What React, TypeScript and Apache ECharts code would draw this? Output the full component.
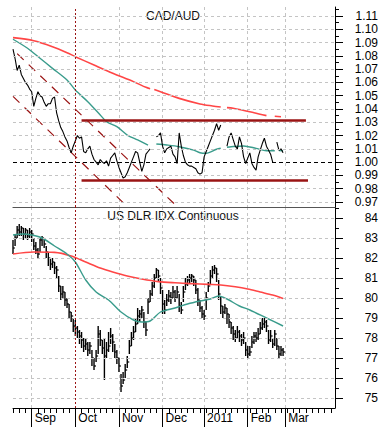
import React, { useEffect, useRef } from "react";
import * as echarts from "echarts";

// ---------- data ----------
const N = 156;
const categories = Array.from({ length: N }, (_, i) => String(i));
const monthIdx = [9, 30, 51, 72, 92, 113, 131];
const monthLabels = ["Sep", "Oct", "Nov", "Dec", "2011", "Feb", "Mar"];
const gridMonthIdx = [9, 51, 72, 92, 113, 131];
const octIdx = 30;

const topTicks = [0.97, 0.98, 0.99, 1.0, 1.01, 1.02, 1.03, 1.04, 1.05, 1.06, 1.07, 1.08, 1.09, 1.1, 1.11];
const topMinor = [0.975, 0.985, 0.995, 1.005, 1.015, 1.025, 1.035, 1.045, 1.055, 1.065, 1.075, 1.085, 1.095, 1.105, 1.115];
const botTicks = [75, 76, 77, 78, 79, 80, 81, 82, 83, 84];
const botMinor = [75.5, 76.5, 77.5, 78.5, 79.5, 80.5, 81.5, 82.5, 83.5, 84.5];

const cadAud = [
  1.085, 1.078, 1.069, 1.073, 1.066, 1.063, 1.06, 1.058, 1.055, 1.053,
  1.042, 1.048, 1.053, 1.05, 1.049, 1.045, 1.042, 1.044, 1.044, 1.048,
  1.049, 1.037, 1.031, 1.026, 1.023, 1.019, 1.016, 1.011, 1.007, 1.012,
  1.016, 1.02, 1.018, 1.019, 1.008, 1.007, 1.01, 1.012, 1.006, 1.002,
  1.0, 0.998, 1.002, 1.0, 0.999, 1.001, 0.997, 1.003, 1.005, 1.007,
  1.001, 0.996, 0.992, 0.988, 0.989, 0.992, 0.996, 1.0, 1.004, 1.008,
  1.007, 1.0, 0.993, 0.998, 1.006, 1.008, 1.01, null, null, 1.019,
  1.02, 1.022, 1.012, 1.007, 1.01, 1.011, 1.012, 1.006, 1.004, 0.999,
  1.022, 1.012, 1.005, 1.0, 0.998, 0.997, 0.997, 0.996, 0.995, 0.992,
  0.991, 0.992, 1.004, 1.008, 1.012, 1.016, 1.02, 1.024, 1.029, 1.024,
  1.028, null, null, 1.012, 1.019, 1.022, 1.017, 1.012, 1.01, 1.019,
  1.014, 1.004, 0.999, 1.003, 1.007, 0.999, 0.996, 0.994, 1.004, 1.009,
  1.014, 1.018, 1.012, 1.009, 1.006, 1.0, null, 1.015, 1.009, 1.01,
  1.007,
];

const cadAudMaShort = [
  [0, 1.0925], [7, 1.0857], [13, 1.0782], [19, 1.0706], [26, 1.0618], [30, 1.0543],
  [36, 1.0455], [42, 1.0355], [45, 1.0305], [50, 1.0267], [55, 1.0204], [60, 1.0167],
  [65, 1.0129], [67, null], [69, 1.0137], [74, 1.0129], [80, 1.0116], [87, 1.0091],
  [90, 1.0071], [93, 1.0067], [98, 1.0097], [100, 1.0105], [101, null], [103, 1.0112],
  [105, 1.0116], [111, 1.0122], [117, 1.0104], [122, 1.0086], [126, 1.0086], [127, null],
  [128, 1.0088], [130, 1.0086],
];

const cadAudMaLong = [
  [0, 1.0937], [10, 1.0914], [19, 1.0869], [26, 1.0824], [30, 1.0794], [39, 1.0731],
  [48, 1.0669], [58, 1.0606], [64, 1.0563], [66, 1.0552], [67, null], [68, 1.0546],
  [71, 1.053], [80, 1.048], [90, 1.0438], [96, 1.0423], [100, 1.0415], [101, null],
  [103, 1.041], [106, 1.0405], [116, 1.0372], [122, 1.035], [123, null], [126, 1.0346],
  [129, 1.0342],
];

const resistance = [[33, 1.0313], [141, 1.0313]];
const support = [[33, 0.9862], [142, 0.9862]];
const channelA = [[0, 1.0495], [55, 0.9666]];
const channelB = [[2, 1.0817], [79, 0.9666]];

const dxyClose = [
  82.5, 83.0, 83.4, 83.3, 83.5, 83.2, 83.4, 83.1, 83.3, 83.2,
  82.6, 82.4, 82.2, 82.9, 83.0, 82.7, 82.3, 82.0, 81.7, 81.8,
  81.5, 81.4, 80.6, 80.2, 80.3, 79.9, 79.7, 79.3, 79.1, 78.6,
  78.5, 78.3, 78.1, 77.9, 77.6, 77.7, 77.4, 77.6, 77.0, 76.6,
  77.1, 78.2, 77.9, 77.5, 77.1, 77.4, 77.6, 78.1, 77.8, 77.3,
  77.0, 76.6, 75.6, 75.9, 76.4, 76.8, 77.6, 78.0, 78.3, 78.7,
  79.1, 79.2, 79.4, 78.8, 78.4, 79.8, 80.2, 80.6, 81.0, 81.4,
  81.1, 80.5, 79.7, 79.4, 79.9, 80.1, 80.0, 80.3, 80.0, 80.3,
  79.6, 79.4, 80.3, 80.7, 80.9, 81.0, 81.1, 80.9, 80.4, 79.9,
  79.5, 79.2, 79.1, 80.0, 80.6, 81.1, 81.4, 81.5, 81.2, 80.2,
  79.6, 79.3, 79.5, 79.2, 78.8, 78.5, 78.2, 78.0, 78.3, 78.1,
  77.9, 78.0, 77.4, 77.2, 77.3, 77.8, 78.1, 78.0, 78.2, 78.5,
  78.7, 78.8, 78.6, 77.9, 78.1, 77.7, 78.2, 77.6, 77.2, 77.4,
  77.3,
];
const dxyHigh = [
  82.9, 83.2, 83.6, 83.7, 83.6, 83.5, 83.5, 83.4, 83.5, 83.4,
  83.0, 82.8, 82.5, 83.0, 83.1, 83.0, 82.6, 82.3, 82.0, 82.0,
  81.8, 81.6, 81.1, 80.6, 80.6, 80.3, 80.0, 79.7, 79.3, 79.0,
  78.9, 78.6, 78.4, 78.3, 78.0, 78.0, 77.8, 77.8, 77.4, 77.0,
  77.4, 78.6, 78.4, 77.9, 78.0, 77.8, 78.3, 78.5, 78.2, 77.7,
  77.4, 77.0, 76.2, 76.3, 76.7, 77.1, 77.9, 78.3, 78.6, 79.0,
  79.5, 79.4, 79.6, 79.3, 78.8, 80.0, 80.4, 80.8, 81.2, 81.5,
  81.4, 81.0, 80.4, 79.9, 80.2, 80.4, 80.3, 80.6, 80.4, 80.6,
  80.2, 79.8, 80.6, 81.0, 81.1, 81.2, 81.2, 81.1, 80.9, 80.5,
  79.9, 79.6, 79.4, 80.3, 80.8, 81.4, 81.6, 81.65, 81.5, 80.9,
  80.1, 79.6, 79.7, 79.5, 79.2, 78.8, 78.6, 78.4, 78.6, 78.4,
  78.2, 78.3, 77.8, 77.6, 77.6, 78.1, 78.3, 78.3, 78.5, 78.8,
  79.0, 79.0, 78.9, 78.4, 78.4, 78.0, 78.4, 78.0, 77.6, 77.6,
  77.5,
];
const dxyLow = [
  82.2, 82.6, 83.0, 83.1, 83.1, 82.9, 83.0, 82.9, 83.0, 82.8,
  82.4, 82.2, 82.0, 82.3, 82.6, 82.5, 82.0, 81.6, 81.4, 81.5,
  81.2, 81.0, 80.3, 79.9, 80.0, 79.6, 79.5, 79.0, 78.8, 78.3,
  78.1, 78.0, 77.7, 77.5, 77.3, 77.4, 77.1, 77.2, 76.6, 76.4,
  76.8, 77.2, 77.6, 77.2, 75.9, 77.0, 77.3, 77.7, 77.3, 77.0,
  76.7, 76.3, 75.3, 75.7, 76.0, 76.5, 77.2, 77.6, 77.9, 78.3,
  78.7, 78.8, 79.0, 78.5, 78.1, 79.2, 79.8, 80.1, 80.5, 81.0,
  80.8, 80.2, 79.2, 79.2, 79.6, 79.8, 79.7, 80.0, 79.8, 80.0,
  79.3, 79.2, 79.8, 80.4, 80.6, 80.7, 80.8, 80.6, 80.2, 79.6,
  79.3, 79.0, 78.9, 79.4, 80.3, 80.7, 81.0, 81.2, 80.8, 79.9,
  79.2, 79.0, 79.2, 78.7, 78.5, 78.2, 77.9, 77.8, 78.0, 77.8,
  77.6, 77.7, 77.1, 77.0, 77.1, 77.5, 77.7, 77.8, 77.9, 78.2,
  78.4, 78.5, 78.3, 77.7, 77.8, 77.5, 77.6, 77.4, 77.0, 77.1,
  77.1,
];

const dxyMaShort = [
  [0, 83.15], [5, 83.2], [9, 83.15], [14, 83.0], [20, 82.6], [26, 82.2], [30, 81.8],
  [35, 80.9], [40, 80.3], [46, 79.9], [52, 79.3], [58, 78.9], [62, 78.8], [66, 78.85],
  [71, 79.3], [78, 79.5], [84, 79.7], [90, 79.85], [95, 79.95], [99, 80.1], [103, 79.95],
  [109, 79.6], [114, 79.4], [122, 79.0], [130, 78.6],
];
const dxyMaLong = [
  [0, 82.2], [10, 82.3], [20, 82.28], [28, 82.1], [35, 81.8], [42, 81.5], [48, 81.3],
  [55, 81.1], [62, 80.95], [70, 80.82], [78, 80.76], [86, 80.72], [94, 80.68],
  [100, 80.65], [107, 80.56], [113, 80.45], [119, 80.3], [125, 80.15], [130, 79.98],
];

// ---------- styles ----------
const FONT = "'Liberation Sans', Arial, sans-serif";
const GRID_COLOR = "#c4c4c4";
const DARK_RED = "#9a1414";
const TEAL = "#3a9c8c";
const RED = "#ff4646";

export default function App() {
  const ref = useRef<HTMLDivElement>(null);

  useEffect(() => {
    if (!ref.current) return;
    const chart = echarts.init(ref.current, null, { renderer: "svg" });

    const monthSet = new Set(monthIdx);
    const gridSet = new Set(gridMonthIdx);
    const labelOf = (i: number) => {
      const k = monthIdx.indexOf(i);
      return k >= 0 ? monthLabels[k] : "";
    };

    const hGrid = (ticks: number[], skip: number[] = []) =>
      ticks
        .filter((t) => !skip.includes(t))
        .map((t) => ({ yAxis: t }));

    const baseX = (gridIndex: number) => ({
      type: "category",
      gridIndex,
      position: "bottom",
      data: categories,
      boundaryGap: false,
      axisLine: { show: false },
      axisTick: { show: false },
      axisLabel: { show: false },
      splitLine: {
        show: true,
        interval: (i: number) => gridSet.has(i),
        lineStyle: { color: GRID_COLOR, type: [3, 3], width: 1 },
      },
    });

    const option: any = {
      animation: false,
      backgroundColor: "#ffffff",
      textStyle: { fontFamily: FONT },
      grid: [
        { left: 13, top: 7, width: 322, height: 200 },
        { left: 13, top: 207, width: 322, height: 201 },
      ],
      xAxis: [
        {
          ...baseX(0),
          axisLine: { show: true, onZero: false, lineStyle: { color: "#555", width: 1.2 } },
        },
        {
          ...baseX(1),
          axisLine: { show: true, onZero: false, lineStyle: { color: "#000", width: 1 } },
          axisTick: {
            show: true,
            length: 19,
            interval: (i: number) => monthSet.has(i),
            lineStyle: { color: "#000", width: 1 },
          },
          axisLabel: {
            show: true,
            interval: (i: number) => monthSet.has(i),
            formatter: (_v: string, i: number) => labelOf(i),
            align: "left",
            padding: [0, 0, 0, 3],
            margin: 4,
            fontSize: 12,
            color: "#000",
            fontFamily: FONT,
          },
        },
        {
          type: "category",
          gridIndex: 1,
          position: "bottom",
          data: categories,
          boundaryGap: false,
          axisLine: { show: false, onZero: false },
          axisTick: {
            show: true,
            length: 5,
            interval: (i: number) => i % 3 === 0 && !monthSet.has(i),
            lineStyle: { color: "#000" },
          },
          axisLabel: { show: false },
          splitLine: { show: false },
        },
      ],
      yAxis: [
        {
          type: "value",
          gridIndex: 0,
          position: "right",
          min: 0.96624,
          max: 1.11677,
          axisLine: { show: true, lineStyle: { color: "#000" } },
          axisTick: { show: true, length: 8, customValues: topTicks, lineStyle: { color: "#000" } },
          axisLabel: {
            show: true,
            customValues: topTicks,
            formatter: (v: number) => v.toFixed(2),
            align: "right",
            margin: 43,
            fontSize: 12,
            color: "#000",
            fontFamily: FONT,
          },
          splitLine: { show: false },
        },
        {
          type: "value",
          gridIndex: 0,
          position: "right",
          min: 0.96624,
          max: 1.11677,
          axisLine: { show: false },
          axisTick: { show: true, length: 4, customValues: topMinor, lineStyle: { color: "#000" } },
          axisLabel: { show: false },
          splitLine: { show: false },
        },
        {
          type: "value",
          gridIndex: 1,
          position: "right",
          min: 74.5,
          max: 84.55,
          axisLine: { show: true, lineStyle: { color: "#000" } },
          axisTick: { show: true, length: 8, customValues: botTicks, lineStyle: { color: "#000" } },
          axisLabel: {
            show: true,
            customValues: botTicks,
            formatter: (v: number) => String(v),
            align: "right",
            margin: 43,
            fontSize: 12,
            color: "#000",
            fontFamily: FONT,
          },
          splitLine: { show: false },
        },
        {
          type: "value",
          gridIndex: 1,
          position: "right",
          min: 74.5,
          max: 84.55,
          axisLine: { show: false },
          axisTick: { show: true, length: 4, customValues: botMinor, lineStyle: { color: "#000" } },
          axisLabel: { show: false },
          splitLine: { show: false },
        },
      ],
      graphic: [
        {
          type: "text",
          x: 173,
          y: 16,
          style: {
            text: "CAD/AUD",
            fill: "#111",
            font: `12px ${FONT}`,
            textAlign: "center",
            textVerticalAlign: "middle",
          },
        },
        {
          type: "text",
          x: 173,
          y: 216,
          style: {
            text: "US DLR IDX Continuous",
            fill: "#111",
            font: `12px ${FONT}`,
            textAlign: "center",
            textVerticalAlign: "middle",
          },
        },
      ],
      series: [
        // ---- top panel ----
        {
          type: "line",
          xAxisIndex: 0,
          yAxisIndex: 0,
          data: [],
          silent: true,
          markLine: {
            silent: true,
            symbol: "none",
            label: { show: false },
            lineStyle: { color: GRID_COLOR, type: [3, 3], width: 1 },
            data: hGrid(topTicks, [1.0]),
          },
        },
        {
          type: "line",
          xAxisIndex: 0,
          yAxisIndex: 0,
          data: [],
          silent: true,
          markLine: {
            silent: true,
            symbol: "none",
            label: { show: false },
            lineStyle: { color: "#000", type: [4, 3], width: 1 },
            data: [{ yAxis: 1.0 }],
          },
        },
        {
          type: "line",
          xAxisIndex: 0,
          yAxisIndex: 0,
          data: [],
          silent: true,
          markLine: {
            silent: true,
            symbol: "none",
            label: { show: false },
            lineStyle: { color: DARK_RED, type: [2, 2], width: 1 },
            data: [{ xAxis: octIdx }],
          },
        },
        {
          type: "line",
          xAxisIndex: 0,
          yAxisIndex: 0,
          data: channelA,
          showSymbol: false,
          silent: true,
          lineStyle: { color: DARK_RED, width: 1.2, type: [9, 7] },
        },
        {
          type: "line",
          xAxisIndex: 0,
          yAxisIndex: 0,
          data: channelB,
          showSymbol: false,
          silent: true,
          lineStyle: { color: DARK_RED, width: 1.2, type: [9, 7] },
        },
        {
          type: "line",
          xAxisIndex: 0,
          yAxisIndex: 0,
          data: cadAudMaLong,
          showSymbol: false,
          silent: true,
          smooth: 0.3,
          lineStyle: { color: RED, width: 1.6 },
        },
        {
          type: "line",
          xAxisIndex: 0,
          yAxisIndex: 0,
          data: cadAudMaShort,
          showSymbol: false,
          silent: true,
          smooth: 0.3,
          lineStyle: { color: TEAL, width: 1.4 },
        },
        {
          type: "line",
          xAxisIndex: 0,
          yAxisIndex: 0,
          data: resistance,
          showSymbol: false,
          silent: true,
          lineStyle: { color: DARK_RED, width: 2.5 },
        },
        {
          type: "line",
          xAxisIndex: 0,
          yAxisIndex: 0,
          data: support,
          showSymbol: false,
          silent: true,
          lineStyle: { color: DARK_RED, width: 2.5 },
        },
        {
          type: "line",
          xAxisIndex: 0,
          yAxisIndex: 0,
          data: cadAud,
          showSymbol: false,
          silent: true,
          connectNulls: false,
          lineStyle: { color: "#000", width: 1.1 },
        },
        // ---- bottom panel ----
        {
          type: "line",
          xAxisIndex: 1,
          yAxisIndex: 2,
          data: [],
          silent: true,
          markLine: {
            silent: true,
            symbol: "none",
            label: { show: false },
            lineStyle: { color: GRID_COLOR, type: [3, 3], width: 1 },
            data: hGrid(botTicks),
          },
        },
        {
          type: "line",
          xAxisIndex: 1,
          yAxisIndex: 2,
          data: [],
          silent: true,
          markLine: {
            silent: true,
            symbol: "none",
            label: { show: false },
            lineStyle: { color: DARK_RED, type: [2, 2], width: 1 },
            data: [{ xAxis: octIdx }],
          },
        },
        {
          type: "line",
          xAxisIndex: 1,
          yAxisIndex: 2,
          data: dxyMaLong,
          showSymbol: false,
          silent: true,
          smooth: 0.3,
          lineStyle: { color: RED, width: 1.6 },
        },
        {
          type: "line",
          xAxisIndex: 1,
          yAxisIndex: 2,
          data: dxyMaShort,
          showSymbol: false,
          silent: true,
          smooth: 0.3,
          lineStyle: { color: TEAL, width: 1.4 },
        },
        {
          type: "custom",
          xAxisIndex: 1,
          yAxisIndex: 2,
          silent: true,
          data: dxyClose.map((c, i) => [i, dxyHigh[i], dxyLow[i], c]),
          encode: { x: 0, y: [1, 2, 3] },
          renderItem: (_params: any, api: any) => {
            const i = api.value(0);
            const pH = api.coord([i, api.value(1)]);
            const pL = api.coord([i, api.value(2)]);
            const pC = api.coord([i, api.value(3)]);
            return {
              type: "group",
              children: [
                {
                  type: "line",
                  shape: { x1: pH[0], y1: pH[1], x2: pL[0], y2: pL[1] },
                  style: { stroke: "#000", lineWidth: 1.4 },
                },
                {
                  type: "line",
                  shape: { x1: pC[0], y1: pC[1], x2: pC[0] + 2, y2: pC[1] },
                  style: { stroke: "#000", lineWidth: 1.2 },
                },
              ],
            };
          },
        },
      ],
    };

    chart.setOption(option);
    return () => chart.dispose();
  }, []);

  return (
    <div
      ref={ref}
      style={{ position: "absolute", left: 0, top: 0, width: 386, height: 427, background: "#fff" }}
    />
  );
}
